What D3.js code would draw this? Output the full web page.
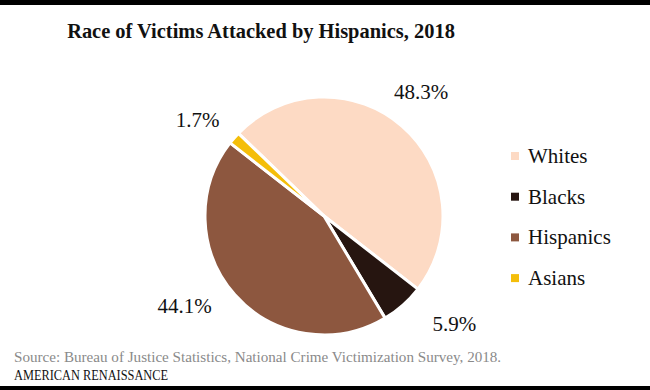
<!DOCTYPE html>
<html><head><meta charset="utf-8">
<script src="https://cdn.jsdelivr.net/npm/d3@7"></script>
<style>html,body{margin:0;padding:0;background:#fff;}svg{display:block;}</style>
</head><body>
<svg id="c" width="650" height="390"></svg>
<script>
const categories = ["Whites", "Blacks", "Hispanics", "Asians"];
const values = [48.3, 5.9, 44.1, 1.7];
const labels = ["48.3%", "5.9%", "44.1%", "1.7%"];
const colors = ["#FDDAC4", "#261510", "#8D573F", "#F4BE0A"];
const title = "Race of Victims Attacked by Hispanics, 2018";
const source = "Source: Bureau of Justice Statistics, National Crime Victimization Survey, 2018.";
const brand = "AMERICAN RENAISSANCE";

const svg = d3.select("#c");
const FONT = "'Liberation Serif', 'DejaVu Serif', serif";

svg.append("rect").attr("x",0).attr("y",0).attr("width",650).attr("height",5).attr("fill","#000");
svg.append("rect").attr("x",0).attr("y",386).attr("width",650).attr("height",4).attr("fill","#000");

function fit(sel, w){
  const n = sel.node();
  const fs = parseFloat(sel.attr("font-size"));
  const cur = n.getComputedTextLength();
  sel.attr("font-size", (fs * w / cur).toFixed(2));
}

const t = svg.append("text").attr("x",261).attr("y",38).attr("text-anchor","middle")
  .attr("font-family",FONT).attr("font-weight","bold").attr("font-size",23).attr("fill","#111").text(title);
fit(t, 388);

const cx = 324, cy = 216, r = 119;
const a0 = -46*Math.PI/180;
const pie = d3.pie().sort(null).value(d => d).startAngle(a0).endAngle(a0 + 2*Math.PI);
const arcs = pie(values);
const arc = d3.arc().innerRadius(0).outerRadius(r);
const g = svg.append("g").attr("transform",`translate(${cx},${cy})`);
g.selectAll("path").data(arcs).enter().append("path")
  .attr("d", arc).attr("fill",(d,i)=>colors[i]).attr("stroke","#fff").attr("stroke-width",3).attr("stroke-linejoin","round");

// labels placed radially outside each slice, with small nudges
const labelArc = d3.arc().innerRadius(162).outerRadius(162);
const nudges = [[-9,-2],[23,-14],[-18,-18],[-4,10]];
g.selectAll("text.lbl").data(arcs).enter().append("text").attr("class","lbl")
  .attr("transform",(d,i)=>{const c = labelArc.centroid(d); return `translate(${c[0]+nudges[i][0]},${c[1]+nudges[i][1]})`;})
  .attr("dy","0.35em")
  .attr("font-family",FONT).attr("font-size",21).attr("fill","#111").attr("text-anchor","middle")
  .text((d,i)=>labels[i]);

const leg = svg.append("g");
categories.forEach((c,i)=>{
  const y = 163 + i*40.7;
  leg.append("rect").attr("x",511).attr("y",y-11).attr("width",8).attr("height",8).attr("fill",colors[i]);
  leg.append("text").attr("x",528).attr("y",y).attr("font-family",FONT).attr("font-size",21).attr("fill","#111").text(c);
});

const s = svg.append("text").attr("x",14).attr("y",362).attr("font-family",FONT).attr("font-size",15).attr("fill","#8a8a8a").text(source);
fit(s, 487);
svg.append("text").attr("x",14).attr("y",380).attr("font-family",FONT).attr("font-size",14).attr("fill","#111")
  .attr("textLength",154).attr("lengthAdjust","spacingAndGlyphs").text(brand);
</script>
</body></html>
